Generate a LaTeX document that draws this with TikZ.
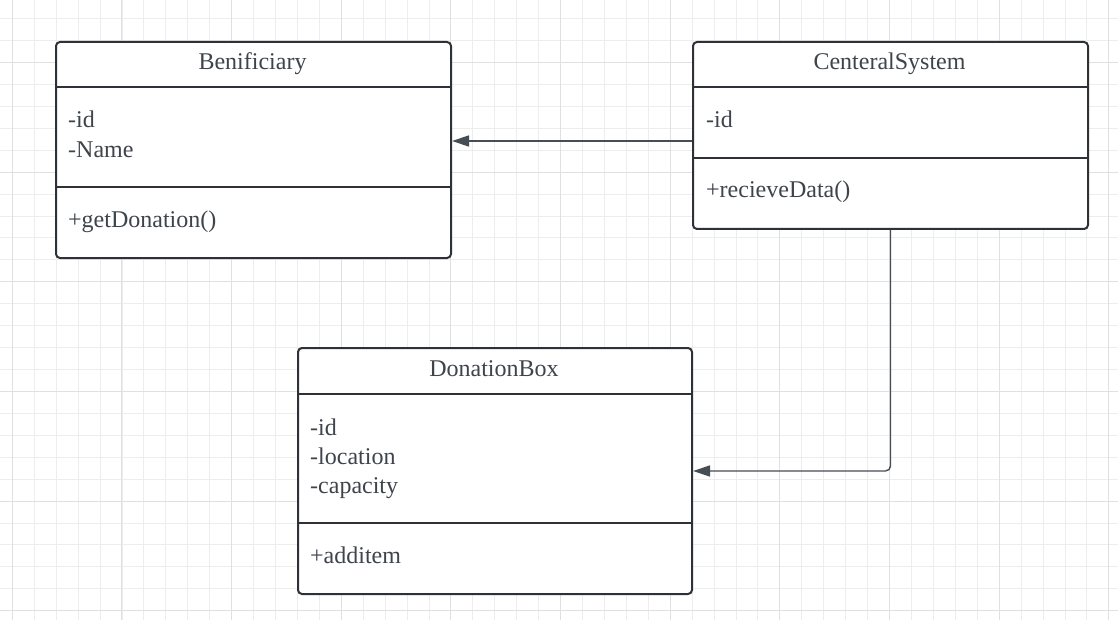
\documentclass[tikz,border=0pt]{standalone}
\usepackage{fontspec}
\setmainfont{Liberation Serif}
\usetikzlibrary{arrows.meta}
\definecolor{gridminor}{HTML}{EDEDED}
\definecolor{gridmajor}{HTML}{E0E0E0}
\definecolor{boxline}{HTML}{2E3238}
\definecolor{txt}{HTML}{3E444C}
\definecolor{conncol}{HTML}{474D55}
\tikzset{
  minorg/.style={draw=gridminor, line width=0.9pt},
  majorg/.style={draw=gridmajor, line width=1pt},
  umlbox/.style={draw=boxline, fill=white, line width=2pt, rounded corners=4pt, rectangle, inner sep=0pt, anchor=north west},
  sepline/.style={draw=boxline, line width=2pt},
  title/.style={anchor=base, inner sep=0pt, text=txt, font=\fontsize{24}{29}\selectfont},
  member/.style={anchor=base west, inner sep=0pt, text=txt, font=\fontsize{24}{29}\selectfont},
  conn/.style={draw=conncol, line width=1.4pt, -{Triangle[length=17pt,width=11pt]}},
}
\begin{document}
\begin{tikzpicture}[x=1pt, y=-1pt]
\useasboundingbox (0,0) rectangle (1118,620);
\fill[white] (0,0) rectangle (1118,620);
% grid
\foreach \k in {0,...,50}{\draw[minorg] ({12.3+21.93*\k},0) -- ({12.3+21.93*\k},620);}
\foreach \k in {0,...,27}{\draw[minorg] (0,{18.6+21.93*\k}) -- (1118,{18.6+21.93*\k});}
\foreach \k in {0,5,...,50}{\draw[majorg] ({12.3+21.93*\k},0) -- ({12.3+21.93*\k},620);}
\foreach \k in {2,7,...,27}{\draw[majorg] (0,{18.6+21.93*\k}) -- (1118,{18.6+21.93*\k});}

% Benificiary
\node[umlbox, minimum width=395pt, minimum height=216pt] (ben) at (55,41) {};
\draw[sepline] (55,87) -- (450,87);
\draw[sepline] (55,187) -- (450,187);
\node[title] (ben-t) at (252.5,70) {Benificiary};
\node[member] (ben-a1) at (68,128) {-id};
\node[member] (ben-a2) at (68,157.5) {-Name};
\node[member] (ben-m1) at (68,228) {+getDonation()};

% CenteralSystem
\node[umlbox, minimum width=395pt, minimum height=187pt] (cs) at (692,41) {};
\draw[sepline] (692,87) -- (1087,87);
\draw[sepline] (692,158) -- (1087,158);
\node[title] (cs-t) at (889.5,70) {CenteralSystem};
\node[member] (cs-a1) at (706,128) {-id};
\node[member] (cs-m1) at (706,198) {+recieveData()};

% DonationBox
\node[umlbox, minimum width=394pt, minimum height=246pt] (db) at (297,347) {};
\draw[sepline] (297,394) -- (691,394);
\draw[sepline] (297,523) -- (691,523);
\node[title] (db-t) at (494,376) {DonationBox};
\node[member] (db-a1) at (310,435) {-id};
\node[member] (db-a2) at (310,464) {-location};
\node[member] (db-a3) at (310,493) {-capacity};
\node[member] (db-m1) at (310,563) {+additem};

% connectors
\draw[conn] ([yshift=-5.5pt]cs.west) -- ([yshift=-5.5pt]cs.west -| ben.east);
\draw[conn, rounded corners=5pt] (cs.south) |- (db.east);
\end{tikzpicture}
\end{document}
